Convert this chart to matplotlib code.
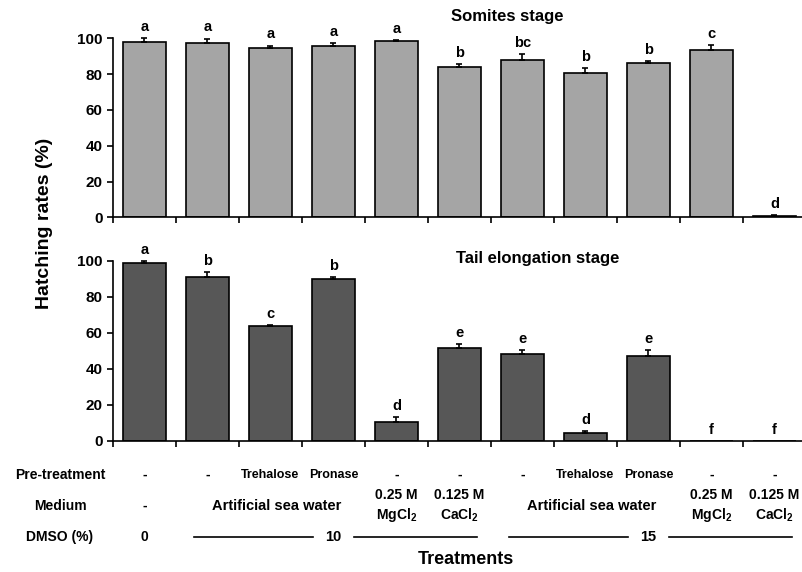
import matplotlib
matplotlib.use("Agg")
import matplotlib.pyplot as plt
from matplotlib.transforms import blended_transform_factory
from matplotlib.lines import Line2D
import numpy as np

plt.rcParams['font.family'] = ['Liberation Sans', 'DejaVu Sans']
plt.rcParams['font.weight'] = 'bold'
plt.rcParams['mathtext.fontset'] = 'custom'
plt.rcParams['mathtext.rm'] = 'Liberation Sans:bold'
plt.rcParams['mathtext.it'] = 'Liberation Sans:bold'
plt.rcParams['mathtext.bf'] = 'Liberation Sans:bold'

# ---- data ----
treatments = list(range(11))
somites = [97.8, 97.5, 94.4, 95.7, 98.3, 84.1, 87.7, 80.8, 86.0, 93.6, 0.7]
somites_err = [2.5, 2.3, 1.5, 1.7, 0.6, 1.5, 3.5, 2.6, 1.3, 2.8, 0.4]
somites_letters = ['a', 'a', 'a', 'a', 'a', 'b', 'bc', 'b', 'b', 'c', 'd']
tail = [98.9, 90.9, 63.7, 89.8, 10.4, 51.5, 48.2, 4.1, 47.2, 0, 0]
tail_err = [0.9, 2.6, 0.7, 1.1, 2.6, 2.2, 2.0, 1.1, 3.2, 0, 0]
tail_letters = ['a', 'b', 'c', 'b', 'd', 'e', 'e', 'd', 'e', 'f', 'f']
yticks = [0, 20, 40, 60, 80, 100]

pretreatment = ['-', '-', 'Trehalose', 'Pronase', '-', '-', '-', 'Trehalose', 'Pronase', '-', '-']
medium_single = {0: '-', 4: '0.25 M\nMgCl$_{2}$', 5: '0.125 M\nCaCl$_{2}$',
                 9: '0.25 M\nMgCl$_{2}$', 10: '0.125 M\nCaCl$_{2}$'}
medium_groups = [(1, 3, 'Artificial sea water'), (6, 8, 'Artificial sea water')]
dmso_single = {0: '0'}
dmso_groups = [(1, 5, '10'), (6, 10, '15')]

W, H = 803, 572
fig = plt.figure(figsize=(W / 100, H / 100), dpi=100)

left = 113 / W
width = (806 - 113) / W
ax1 = fig.add_axes([left, 1 - 217.3 / H, width, (217.3 - 38.3) / H])
ax2 = fig.add_axes([left, 1 - 440.7 / H, width, (440.7 - 260.7) / H])


def draw(ax, vals, errs, letters, color, title, tx, ty):
    x = np.array(treatments)
    ax.bar(x, vals, width=0.67, color=color, edgecolor='black', linewidth=1.2, zorder=2)
    for xi, v, e in zip(x, vals, errs):
        if e > 0:
            ax.errorbar(xi, v, yerr=[[0], [e]], fmt='none', ecolor='black',
                        elinewidth=1.2, capsize=2.5, capthick=1.2, clip_on=False, zorder=3)
    for xi, v, e, l in zip(x, vals, errs, letters):
        ax.annotate(l, (xi, v + e), xytext=(0, 3), textcoords='offset points',
                    ha='center', va='bottom', fontsize=10.5, fontweight='bold',
                    annotation_clip=False)
    ax.set_xlim(-0.5, 10.5)
    ax.set_ylim(0, 100)
    ax.set_yticks(yticks)
    ax.set_xticks(np.arange(-0.5, 11, 1.0))
    ax.set_xticklabels([])
    ax.tick_params(axis='y', labelsize=11, width=1.2, length=4, direction='out')
    ax.tick_params(axis='x', width=1.2, length=4, direction='out')
    for lab in ax.get_yticklabels():
        lab.set_fontweight('bold')
    ax.spines['top'].set_visible(False)
    ax.spines['right'].set_visible(False)
    ax.spines['left'].set_linewidth(1.2)
    ax.spines['bottom'].set_linewidth(1.2)
    ax.spines['bottom'].set_clip_on(False)
    fig.text(tx / W, 1 - ty / H, title, ha='center', va='center', fontsize=12,
             fontweight='bold')


draw(ax1, somites, somites_err, somites_letters, '#a5a5a5', 'Somites stage', 507, 16)
draw(ax2, tail, tail_err, tail_letters, '#575757', 'Tail elongation stage', 538, 258)

fig.text(45 / W, 1 - 223 / H, 'Hatching rates (%)', rotation=90, ha='center',
         va='center', fontsize=14, fontweight='bold')
fig.text(466 / W, 1 - 560 / H, 'Treatments', ha='center', va='center',
         fontsize=13, fontweight='bold')

tr = blended_transform_factory(ax2.transData, fig.transFigure)
y_pre = 1 - 475 / H
y_med = 1 - 506 / H
y_dmso = 1 - 537 / H

for lbl, yy in [('Pre-treatment', y_pre), ('Medium', y_med), ('DMSO (%)', y_dmso)]:
    fig.text(60 / W, yy, lbl, ha='center', va='center', fontsize=10, fontweight='bold')

for i, p in enumerate(pretreatment):
    fs = 9 if p != '-' else 10
    fig.text(treatments[i], y_pre, p, transform=tr, ha='center', va='center',
             fontsize=fs, fontweight='bold')

for i, m in medium_single.items():
    fig.text(treatments[i], y_med, m, transform=tr, ha='center', va='center',
             fontsize=10, fontweight='bold', linespacing=1.3)
for a, b, m in medium_groups:
    fig.text((treatments[a] + treatments[b]) / 2 + 0.1, y_med, m, transform=tr,
             ha='center', va='center', fontsize=10.5, fontweight='bold')

for i, d in dmso_single.items():
    fig.text(treatments[i], y_dmso, d, transform=tr, ha='center', va='center',
             fontsize=10, fontweight='bold')
for a, b, d in dmso_groups:
    c = (treatments[a] + treatments[b]) / 2
    fig.text(c, y_dmso, d, transform=tr, ha='center', va='center',
             fontsize=10.5, fontweight='bold')
    fig.add_artist(Line2D([a - 0.21, c - 0.33], [y_dmso, y_dmso], transform=tr,
                          color='black', linewidth=1.2))
    fig.add_artist(Line2D([c + 0.32, b + 0.28], [y_dmso, y_dmso], transform=tr,
                          color='black', linewidth=1.2))

fig.savefig('out.png', dpi=100)
